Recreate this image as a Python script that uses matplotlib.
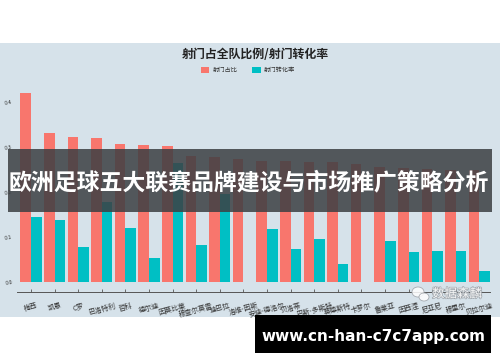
import matplotlib
matplotlib.use("Agg")
import matplotlib.pyplot as plt
import matplotlib.patheffects as pe
from matplotlib.patches import Rectangle, Ellipse
import numpy as np

plt.rcParams['font.family'] = ['Noto Sans CJK SC', 'DejaVu Sans']

# data
players = ['梅西', '凯恩', 'C罗', '巴洛特利', '哲科', '德尔迪', '因莫比莱', '穆查尔莫雷',
           '迪巴拉', '洛维-因斯', '安迪-德洛尔', '贝洛蒂', '巴斯-多斯特', '莫德斯特',
           '卡罗尔', '鲁莱亚', '因西涅', '尼亚尼', '穆里尔', '贝拉尔迪']
shot_share = [0.419, 0.332, 0.323, 0.320, 0.307, 0.304, 0.302, 0.280, 0.278, 0.273,
              0.270, 0.268, 0.267, 0.266, 0.262, 0.255, 0.253, 0.251, 0.250, 0.250]
conversion = [0.145, 0.138, 0.077, 0.178, 0.121, 0.054, 0.264, 0.082, 0.195, 0.0,
              0.117, 0.073, 0.096, 0.040, 0.0, 0.092, 0.067, 0.070, 0.068, 0.024]
yticks = [0.0, 0.1, 0.2, 0.3, 0.4]

W, H = 500, 362
fig = plt.figure(figsize=(W / 100, H / 100), dpi=100)
fig.patch.set_facecolor('white')


def fx(x):
    return x / W


def fy(y):
    return 1 - y / H


# chart background band
fig.patches.append(Rectangle((0, fy(317)), 1, (317 - 43) / H, transform=fig.transFigure,
                             facecolor='#d6e2ea', edgecolor='none', zorder=-1))

ax = fig.add_axes([fx(17), fy(292), (490 - 17) / W, (292 - 85) / H])
ax.set_facecolor('none')
ax.set_zorder(1)

x = np.arange(len(players))
w = 0.45
ax.bar(x - w / 2, shot_share, width=w, color='#f8766d', label='射门占比')
ax.bar(x + w / 2, conversion, width=w, color='#00bfc4', label='射门转化率')

ax.set_xlim(-0.593, 19.45)
ax.set_ylim(-0.0222, 0.4378)
ax.set_yticks(yticks)
ax.set_yticklabels([f'{v:.1f}' for v in yticks], fontsize=4, color='#333333', rotation=10)
ax.tick_params(axis='y', length=0, pad=3)
ax.set_xticks(x)
ax.set_xticklabels(players, fontsize=5, rotation=15, color='#333333')
ax.tick_params(axis='x', direction='in', length=2.2, width=0.6, color='#555555', pad=7)
for s in ['top', 'right', 'left']:
    ax.spines[s].set_visible(False)
ax.spines['bottom'].set_color('#555555')
ax.spines['bottom'].set_linewidth(0.7)

fig.text(fx(255), fy(54), '射门占全队比例/射门转化率', ha='center', va='center',
         fontsize=8.6, fontweight='bold', color='#222222')
ax.legend(loc='center', bbox_to_anchor=(fx(248), fy(70)), bbox_transform=fig.transFigure,
          ncol=2, frameon=False, fontsize=4.5, handlelength=1.3, handleheight=1.3,
          handletextpad=0.5, columnspacing=2.4, labelcolor='#333333')

# overlay banner
fig.patches.append(Rectangle((fx(8), fy(212)), (492 - 8) / W, (212 - 149) / H,
                             transform=fig.transFigure, facecolor='#3c4044',
                             edgecolor='none', alpha=0.86, zorder=5))
fig.text(fx(249), fy(183), '欧洲足球五大联赛品牌建设与市场推广策略分析', ha='center',
         va='center', fontsize=16.5, fontweight='bold', color='white', zorder=6)

# watermark
for cx, cy, ew, eh in [(418, 292, 12, 10), (424, 297, 10, 8)]:
    fig.patches.append(Ellipse((fx(cx), fy(cy)), ew / W, eh / H, transform=fig.transFigure,
                               facecolor='white', edgecolor='#9aa0a6', linewidth=0.6,
                               alpha=0.85, zorder=4))
fig.text(fx(457), fy(294), '数据森麟', ha='center', va='center', fontsize=9,
         color='white', alpha=0.9, zorder=4,
         path_effects=[pe.withStroke(linewidth=1, foreground='#9aa0a6')])

# url box
fig.patches.append(Rectangle((fx(255), fy(353)), (491 - 255) / W, (353 - 315) / H,
                             transform=fig.transFigure, facecolor='black',
                             edgecolor='none', zorder=5))
fig.text(fx(373), fy(336), 'www.cn-han-c7c7app.com', ha='center', va='center',
         fontsize=11, fontweight='bold', color='white', family='DejaVu Sans', zorder=6)

fig.savefig('out.png', dpi=100)
